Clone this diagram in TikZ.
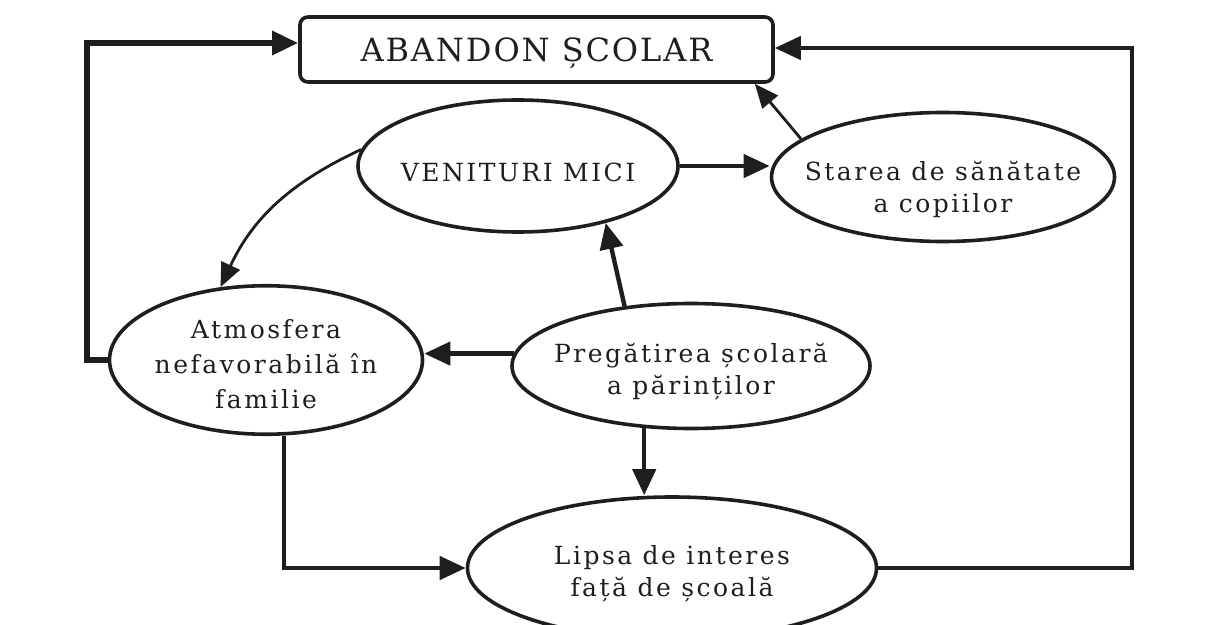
\documentclass[tikz,border=0pt]{standalone}
\usepackage{fontspec}
\setmainfont{DejaVu Serif}
\newfontfamily\ovalfont[LetterSpace=10]{DejaVu Serif}
\newfontfamily\titlefont[LetterSpace=6]{DejaVu Serif}
\usetikzlibrary{shapes.geometric,arrows.meta}
\definecolor{ink}{HTML}{1E1E1E}
% text of an oval: no width, optionally lowered
\newcommand{\ovaltext}[2][0pt]{\raisebox{-#1}[\height][\depth]{\makebox[0pt]{\begin{tabular}{@{}c@{}}#2\end{tabular}}}}
\begin{document}
\begin{tikzpicture}[x=0.5pt,y=-0.5pt,
    oval/.style={ellipse,draw=ink,line width=1.8pt,inner sep=0pt,text=ink,
        font=\ovalfont\fontsize{12.5}{16}\selectfont},
    link/.style={draw=ink,line width=2.2pt,-{Triangle[length=13pt,width=11.5pt]}},
    thinlink/.style={draw=ink,line width=1.4pt,-{Triangle[length=12pt,width=10pt]}}]
    \useasboundingbox (0,0) rectangle (1208,625);

    \node[draw=ink,line width=1.8pt,rounded corners=4pt,minimum width=236.5pt,minimum height=32.5pt,
        text=ink,font=\titlefont\fontsize{16}{19}\selectfont] (abandon) at (536.5,49.5) {\raisebox{-2pt}[\height][\depth]{ABANDON ȘCOLAR}};
    \node[oval,minimum width=160pt,minimum height=66pt] (venituri) at (518,166) {\ovaltext[4.5pt]{VENITURI MICI}};
    \node[oval,minimum width=171.5pt,minimum height=64.5pt] (starea) at (943,177) {\ovaltext[6.5pt]{Starea de sănătate\\ a copiilor}};
    \node[oval,minimum width=156.5pt,minimum height=70pt,font=\ovalfont\fontsize{12.5}{17.5}\selectfont] (atmosfera) at (266,360) {\ovaltext[3pt]{Atmosfera\\ nefavorabilă în\\ familie}};
    \node[oval,minimum width=179pt,minimum height=62.5pt] (pregatirea) at (691,366) {\ovaltext[3pt]{Pregătirea școlară\\ a părinților}};
    \node[oval,minimum width=204.5pt,minimum height=71pt] (lipsa) at (672,568) {\ovaltext[3pt]{Lipsa de interes\\ față de școală}};

    \coordinate (lcorner) at (87,43);
    \coordinate (rcorner) at (1132,48);

    \draw[link,line width=3pt] (atmosfera.west) -| (lcorner) -- (lcorner -| abandon.west);
    \draw[link] (lipsa.east) -| (rcorner) -- (rcorner -| abandon.east);
    \draw[link] ([xshift=9pt]atmosfera.south) |- (lipsa.west);
    \draw[link] (pregatirea.233) -- (pregatirea.233 |- lipsa.north);
    \draw[link] (pregatirea.138) -- (venituri.327);
    \draw[link] (pregatirea.176) -- (pregatirea.176 -| atmosfera.east);
    \draw[link] (venituri.east) -- (venituri.east -| starea.west);
    \draw[thinlink] (starea.165) -- ([xshift=-10pt]abandon.south east);
    \draw[thinlink] (venituri.174) to[out=205,in=65] (atmosfera.122);
\end{tikzpicture}
\end{document}
